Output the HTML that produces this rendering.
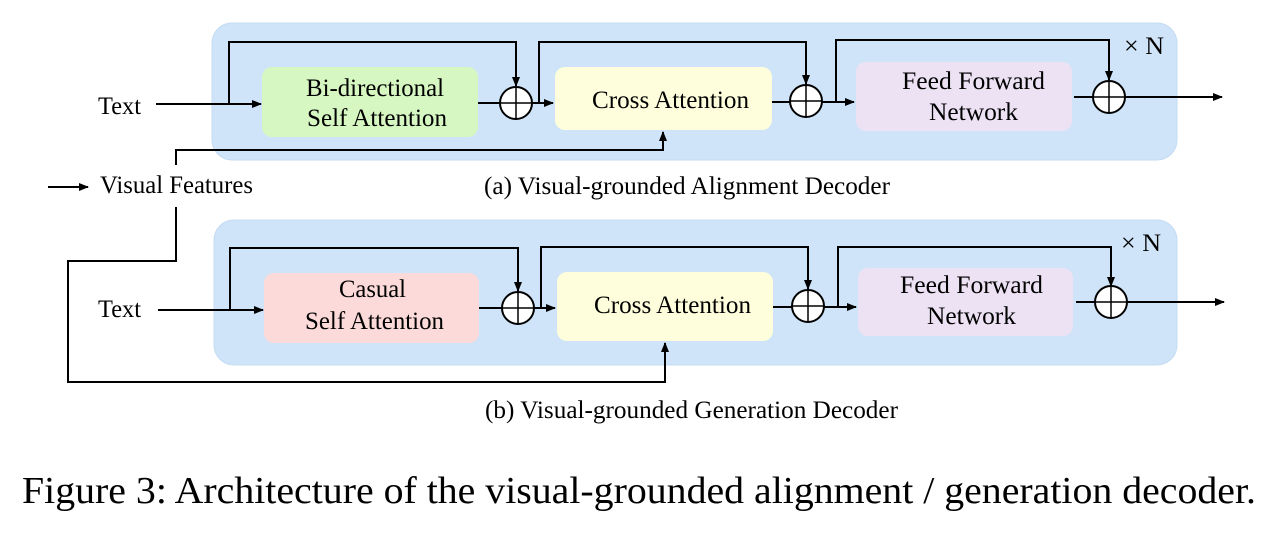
<!DOCTYPE html>
<html><head><meta charset="utf-8"><style>
html,body{margin:0;padding:0;background:#fff;width:1269px;height:534px;overflow:hidden}
svg text{font-family:"Liberation Serif","Times New Roman",Times,serif;fill:#000}
</style></head><body>
<svg width="1269" height="534" viewBox="0 0 1269 534" xmlns="http://www.w3.org/2000/svg" font-family="Liberation Serif, Times New Roman, serif">
<defs>
<marker id="a" markerWidth="10" markerHeight="10" refX="9" refY="5" orient="auto" markerUnits="userSpaceOnUse"><path d="M0,1 L10,5 L0,9 z" fill="#000"/></marker>
</defs>
<rect x="212" y="23" width="965" height="137" rx="20" fill="#cfe4f8" stroke="#c3dbf3"/>
<rect x="214" y="220" width="963" height="145" rx="20" fill="#cfe4f8" stroke="#c3dbf3"/>
<rect x="262" y="67" width="216" height="70" rx="10" fill="#d6f6c2"/>
<rect x="555" y="67" width="217" height="63" rx="10" fill="#fefedc"/>
<rect x="856" y="62" width="216" height="69" rx="10" fill="#ede2f4"/>
<rect x="264" y="273" width="215" height="70" rx="10" fill="#fddada"/>
<rect x="557" y="272" width="216" height="69" rx="10" fill="#fefedc"/>
<rect x="858" y="268" width="215" height="68" rx="10" fill="#ede2f4"/>
<g stroke="#000" stroke-width="2" fill="none">
<line x1="156" y1="104" x2="261" y2="104" marker-end="url(#a)"/>
<polyline points="229,104 229,42 516,42 516,86" marker-end="url(#a)"/>
<line x1="478" y1="103" x2="553" y2="103" marker-end="url(#a)"/>
<polyline points="539,102 539,42 806,42 806,84" marker-end="url(#a)"/>
<line x1="772" y1="102" x2="854" y2="102" marker-end="url(#a)"/>
<polyline points="836,102 836,40 1109,40 1109,80" marker-end="url(#a)"/>
<line x1="1074" y1="97" x2="1222" y2="97" marker-end="url(#a)"/>
<line x1="48" y1="187" x2="88" y2="187" marker-end="url(#a)"/>
<polyline points="176,165 176,150 663,150 663,132" marker-end="url(#a)"/>
<polyline points="176,207 176,261 68,261 68,382 665,382 665,343" marker-end="url(#a)"/>
<line x1="158" y1="310" x2="263" y2="310" marker-end="url(#a)"/>
<polyline points="230,309 230,248 518,248 518,291" marker-end="url(#a)"/>
<line x1="479" y1="308" x2="555" y2="308" marker-end="url(#a)"/>
<polyline points="541,308 541,247 808,247 808,289" marker-end="url(#a)"/>
<line x1="773" y1="307" x2="856" y2="307" marker-end="url(#a)"/>
<polyline points="838,307 838,247 1111,247 1111,286" marker-end="url(#a)"/>
<line x1="1076" y1="302" x2="1224" y2="302" marker-end="url(#a)"/>
</g>
<g stroke="#000" stroke-width="2" fill="#fff">
<circle cx="516" cy="103" r="16"/><circle cx="806" cy="101" r="16"/><circle cx="1109" cy="97" r="16"/>
<circle cx="518" cy="308" r="16"/><circle cx="808" cy="306" r="16"/><circle cx="1111" cy="302" r="16"/>
</g>
<g stroke="#000" stroke-width="1.5">
<line x1="500" y1="103" x2="532" y2="103"/><line x1="516" y1="87" x2="516" y2="119"/>
<line x1="790" y1="101" x2="822" y2="101"/><line x1="806" y1="85" x2="806" y2="117"/>
<line x1="1093" y1="97" x2="1125" y2="97"/><line x1="1109" y1="81" x2="1109" y2="113"/>
<line x1="502" y1="308" x2="534" y2="308"/><line x1="518" y1="292" x2="518" y2="324"/>
<line x1="792" y1="306" x2="824" y2="306"/><line x1="808" y1="290" x2="808" y2="322"/>
<line x1="1095" y1="302" x2="1127" y2="302"/><line x1="1111" y1="286" x2="1111" y2="318"/>
</g>
<g font-size="25">
<text x="98" y="114" textLength="43" lengthAdjust="spacingAndGlyphs">Text</text>
<text x="98" y="317" textLength="43" lengthAdjust="spacingAndGlyphs">Text</text>
<text x="100" y="193" textLength="153" lengthAdjust="spacingAndGlyphs">Visual Features</text>
<text x="306" y="96" textLength="138" lengthAdjust="spacingAndGlyphs">Bi-directional</text>
<text x="307" y="126" textLength="140" lengthAdjust="spacingAndGlyphs">Self Attention</text>
<text x="592" y="108" textLength="157" lengthAdjust="spacingAndGlyphs">Cross Attention</text>
<text x="902" y="89" textLength="143" lengthAdjust="spacingAndGlyphs">Feed Forward</text>
<text x="929" y="120" textLength="89" lengthAdjust="spacingAndGlyphs">Network</text>
<text x="1124" y="54" textLength="40" lengthAdjust="spacingAndGlyphs">× N</text>
<text x="339" y="297" textLength="67" lengthAdjust="spacingAndGlyphs">Casual</text>
<text x="305" y="329" textLength="139" lengthAdjust="spacingAndGlyphs">Self Attention</text>
<text x="594" y="313" textLength="157" lengthAdjust="spacingAndGlyphs">Cross Attention</text>
<text x="900" y="293" textLength="143" lengthAdjust="spacingAndGlyphs">Feed Forward</text>
<text x="927" y="324" textLength="89" lengthAdjust="spacingAndGlyphs">Network</text>
<text x="1121" y="251" textLength="40" lengthAdjust="spacingAndGlyphs">× N</text>
<text x="484" y="194" textLength="406" lengthAdjust="spacingAndGlyphs">(a) Visual-grounded Alignment Decoder</text>
<text x="485" y="418" textLength="413" lengthAdjust="spacingAndGlyphs">(b) Visual-grounded Generation Decoder</text>
</g>
<text x="22" y="503" font-size="38" textLength="1234" lengthAdjust="spacingAndGlyphs">Figure 3: Architecture of the visual-grounded alignment / generation decoder.</text>
</svg>
</body></html>
